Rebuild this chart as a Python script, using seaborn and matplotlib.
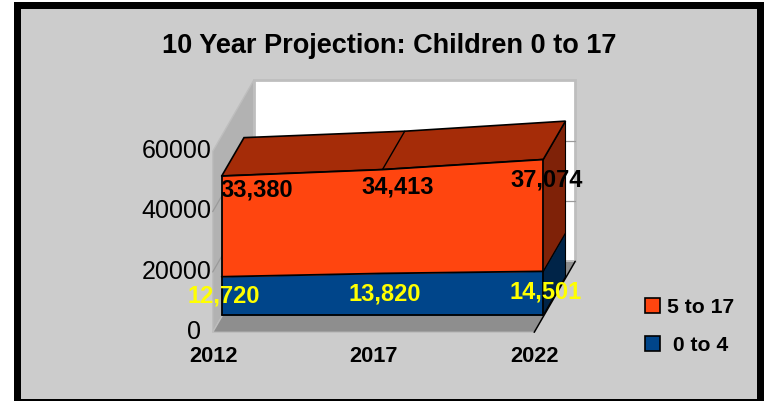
import numpy as np
import pandas as pd
import matplotlib
matplotlib.use("Agg")
import matplotlib.pyplot as plt
import seaborn as sns
from matplotlib.patches import Polygon, Rectangle, Patch
from matplotlib.transforms import Affine2D, IdentityTransform

# ---- data ----
years = ["2012", "2017", "2022"]
under_5 = [12720, 13820, 14501]
age_5_to_17 = [33380, 34413, 37074]
y_ticks = [0, 20000, 40000, 60000]
title = "10 Year Projection: Children 0 to 17"

# ---- style ----
sns.set_theme(style="white")
plt.rcParams["font.family"] = ["Liberation Sans", "DejaVu Sans"]
W, H = 764, 402
BG, ORANGE, BLUE = "#CCCCCC", "#FF450F", "#00458A"
TOP, SIDE_O, SIDE_B = "#A52C08", "#7F2208", "#002448"
WALL, FLOOR, EDGE = "#B2B2B2", "#8E8E8E", "#BEBEBE"
WALL_DEPTH = (41.0, 71.0)
FRONT_DEPTH = (9.0, 17.2)
BACK_DEPTH = (31.3, 55.6)

fig = plt.figure(figsize=(W / 100, H / 100), dpi=100, facecolor="white")
fig.add_artist(Rectangle((16.5 / W, -0.5 / H), 743 / W, 397 / H, transform=fig.transFigure,
                         facecolor=BG, edgecolor="black", linewidth=5.04, zorder=-1, clip_on=False))

ax = fig.add_axes([212.7 / W, 68.7 / H, 321.5 / W, 181 / H])
ax.patch.set_alpha(0)
pos = np.arange(len(years))
ax.set_xlim(pos[0], pos[-1])
ax.set_ylim(y_ticks[0], y_ticks[-1])

lower = np.array(under_5, dtype=float)
upper = lower + np.array(age_5_to_17, dtype=float)
base = np.zeros_like(lower)


def shifted(depth):
    return ax.transData + Affine2D().translate(*depth)


def pt(x, y, depth=(0, 0)):
    return ax.transData.transform((x, y)) + np.array(depth)


def face(points, color, edge="none", lw=0.0, z=1):
    ax.add_patch(Polygon(points, closed=True, facecolor=color, edgecolor=edge, linewidth=lw,
                         transform=IdentityTransform(), clip_on=False, zorder=z))


def seg(a, b, color, lw=1.0, z=2):
    ax.plot([a[0], b[0]], [a[1], b[1]], color=color, lw=lw, transform=IdentityTransform(),
            clip_on=False, zorder=z, solid_capstyle="round")


x0, x1 = pos[0], pos[-1]
y0, y1 = y_ticks[0], y_ticks[-1]

# walls and floor
face([pt(x0, y0, WALL_DEPTH), pt(x1, y0, WALL_DEPTH), pt(x1, y1, WALL_DEPTH), pt(x0, y1, WALL_DEPTH)],
     "white", EDGE, 2.0, 1)
face([pt(x0, y0), pt(x0, y1), pt(x0, y1, WALL_DEPTH), pt(x0, y0, WALL_DEPTH)], WALL, EDGE, 1.0, 1)
face([pt(x0, y0), pt(x1, y0), pt(x1, y0, WALL_DEPTH), pt(x0, y0, WALL_DEPTH)], FLOOR, EDGE, 1.0, 1.5)
for v in y_ticks[1:-1]:
    seg(pt(x0, v), pt(x0, v, WALL_DEPTH), "#9A9A9A", 0.9)
    seg(pt(x0, v, WALL_DEPTH), pt(x1, v, WALL_DEPTH), "#9A9A9A", 0.9)
seg(pt(x1, y0), pt(x1, y0, WALL_DEPTH), "black", 1.1, 2)

# right-hand side faces
face([pt(x1, 0, FRONT_DEPTH), pt(x1, lower[-1], FRONT_DEPTH), pt(x1, lower[-1], BACK_DEPTH), pt(x1, 0, BACK_DEPTH)],
     SIDE_B, "black", 0.8, 3)
face([pt(x1, lower[-1], FRONT_DEPTH), pt(x1, upper[-1], FRONT_DEPTH), pt(x1, upper[-1], BACK_DEPTH),
      pt(x1, lower[-1], BACK_DEPTH)], SIDE_O, "black", 0.8, 3)

# top face, with a crease at each category
top_pts = [pt(p, u, FRONT_DEPTH) for p, u in zip(pos, upper)] + \
          [pt(p, u, BACK_DEPTH) for p, u in zip(pos[::-1], upper[::-1])]
face(top_pts, TOP, "black", 1.2, 3)
for p, u in zip(pos[1:-1], upper[1:-1]):
    seg(pt(p, u, FRONT_DEPTH), pt(p, u, BACK_DEPTH), "black", 1.0, 3.5)

# front faces
T_front = shifted(FRONT_DEPTH)
ax.fill_between(pos, base, lower, color=BLUE, lw=0, transform=T_front, clip_on=False, zorder=4)
ax.fill_between(pos, lower, upper, color=ORANGE, lw=0, transform=T_front, clip_on=False, zorder=4)

outline = pd.DataFrame({
    "pos": np.tile(pos, 3),
    "value": np.concatenate([base, lower, upper]),
    "edge": np.repeat(["base", "under 5", "5 to 17"], len(pos)),
})
sns.lineplot(data=outline, x="pos", y="value", hue="edge",
             palette={"base": "black", "under 5": "black", "5 to 17": "black"},
             estimator=None, legend=False, ax=ax, transform=T_front, clip_on=False,
             linewidth=1.3, zorder=5)
for p in (pos[0], pos[-1]):
    seg(pt(p, 0, FRONT_DEPTH), pt(p, upper[p], FRONT_DEPTH), "black", 1.3, 5)

# axes text
ax.set_xlim(pos[0], pos[-1])
ax.set_ylim(y_ticks[0], y_ticks[-1])
ax.set(xlabel="", ylabel="")
ax.set_xticks(pos, years)
ax.set_yticks(y_ticks, [str(v) for v in y_ticks])
ax.tick_params(axis="y", length=0, pad=1.0, labelsize=18, labelcolor="black")
ax.tick_params(axis="x", length=0, pad=9.5, labelsize=15.7, labelcolor="black")
for lab in ax.get_xticklabels():
    lab.set_fontweight("bold")
    lab.set_transform(lab.get_transform() + Affine2D().translate(0.5, 0))
for v, lab in zip(y_ticks, ax.get_yticklabels()):
    shift = -10 if v == 0 else 0
    lab.set_transform(lab.get_transform() + Affine2D().translate(shift, 3.8))
sns.despine(ax=ax, left=True, bottom=True)

# data labels
orange_nudge = [(35, -12.6), (15, -16.6), (3, -19.6)]
blue_nudge = [(2, 1.4), (2, 1.4), (2, 1.9)]
for p, lo, up, val_b, val_o, nb, no in zip(pos, lower, upper, under_5, age_5_to_17, blue_nudge, orange_nudge):
    ax.text(p, up, f"{val_o:,}", transform=shifted((FRONT_DEPTH[0] + no[0], FRONT_DEPTH[1] + no[1])),
            ha="center", va="center", fontsize=17, fontweight="bold", color="black", zorder=6, clip_on=False)
    ax.text(p, lo / 2, f"{val_b:,}", transform=shifted((FRONT_DEPTH[0] + nb[0], FRONT_DEPTH[1] + nb[1])),
            ha="center", va="center", fontsize=17, fontweight="bold", color="#FFFF00", zorder=6, clip_on=False)

# title
fig.text(389.5 / W, 1 - 46 / H, title, ha="center", va="center", fontsize=19.5, fontweight="bold", color="black")

# legend
handles = [Patch(facecolor=ORANGE, edgecolor="black", linewidth=1.2),
           Patch(facecolor=BLUE, edgecolor="black", linewidth=1.2)]
fig.legend(handles, ["5 to 17", " 0 to 4"], loc="upper left", bbox_to_anchor=(645 / W, 1 - 298.5 / H),
           bbox_transform=fig.transFigure, frameon=False, borderpad=0, borderaxespad=0,
           prop={"size": 15.2, "weight": "bold"}, labelcolor="black", handlelength=0.72, handleheight=0.72,
           handletextpad=0.33, labelspacing=0.9)

fig.savefig("out.png", dpi=100, facecolor="white")
